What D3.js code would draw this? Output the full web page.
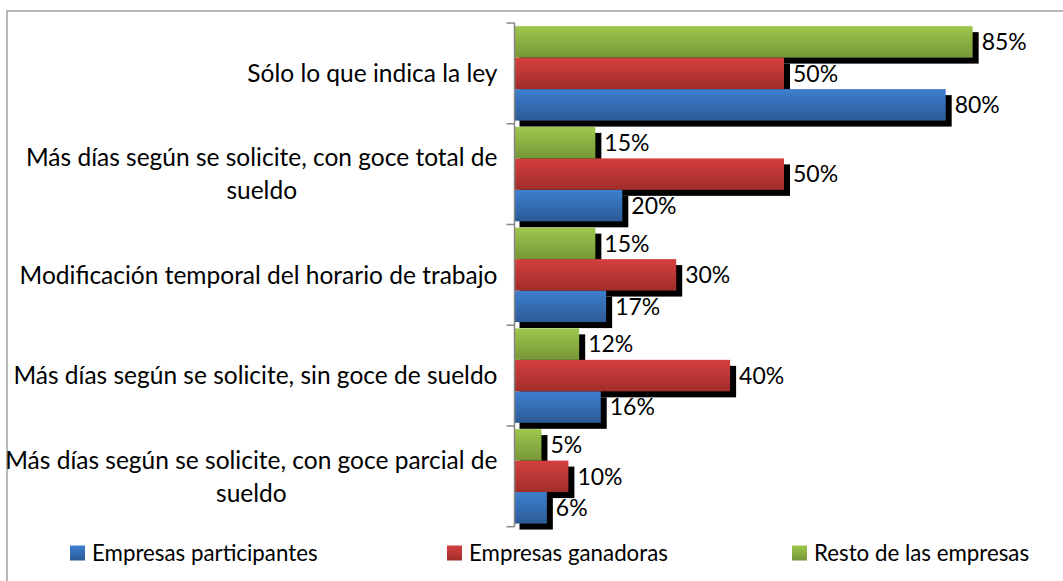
<!DOCTYPE html>
<html>
<head>
<meta charset="utf-8">
<script src="https://cdn.jsdelivr.net/npm/d3@7"></script>
<style>
  body { margin: 0; background: #fff; }
  svg { display: block; font-family: Lato, "Open Sans", sans-serif; }
</style>
</head>
<body>
<div id="chart"></div>
<script>
// data
var categories = [
  "Sólo lo que indica la ley",
  "Más días según se solicite, con goce total de sueldo",
  "Modificación temporal del horario de trabajo",
  "Más días según se solicite, sin goce de sueldo",
  "Más días según se solicite, con goce parcial de sueldo"
];
var seriesNames = ["Empresas participantes", "Empresas ganadoras", "Resto de las empresas"];
var participantes = [80, 20, 17, 16, 6];
var ganadoras = [50, 50, 30, 40, 10];
var resto = [85, 15, 15, 12, 5];

var width = 1063, height = 581;
var catFont = 24.5, valueFont = 23, legendFont = 22.3;
var margin = { top: 23, left: 514.5, bottom: 54, right: 9.5 };

var series = [
  { key: "participantes", name: seriesNames[0], values: participantes, top: "#3d7fcf", bottom: "#2c5b96" },
  { key: "ganadoras", name: seriesNames[1], values: ganadoras, top: "#d4403e", bottom: "#a02d2b" },
  { key: "resto", name: seriesNames[2], values: resto, top: "#9fc74d", bottom: "#769738" }
];

var svg = d3.select("#chart").append("svg")
  .attr("width", width)
  .attr("height", height);

// gradients for the bars
var defs = svg.append("defs");
series.forEach(function(s) {
  var g = defs.append("linearGradient")
    .attr("id", "grad-" + s.key)
    .attr("x1", 0).attr("y1", 0).attr("x2", 0).attr("y2", 1);
  g.append("stop").attr("offset", "0%").attr("stop-color", s.top);
  g.append("stop").attr("offset", "100%").attr("stop-color", s.bottom);
});

// chart frame (only top and left edges are inside the picture)
svg.append("path")
  .attr("d", "M7,590V11H1070")
  .attr("fill", "none")
  .attr("stroke", "#a0a0a0")
  .attr("stroke-width", 1.5);

var x = d3.scaleLinear()
  .domain([0, 100])
  .range([margin.left, width - margin.right]);

var y = d3.scaleBand()
  .domain(categories)
  .range([margin.top, height - margin.bottom - 0.3])
  .paddingInner(0).paddingOuter(0);

// within each category: green on top, red, then blue
var ySub = d3.scaleBand()
  .domain(["resto", "ganadoras", "participantes"])
  .range([0, y.bandwidth()])
  .paddingInner(0)
  .paddingOuter(0.1);

var bars = [];
series.forEach(function(s) {
  s.values.forEach(function(v, i) {
    bars.push({ key: s.key, cat: categories[i], value: v });
  });
});

//Shadows first so the next bar covers them
svg.append("g").selectAll("rect")
  .data(bars)
  .enter().append("rect")
  .attr("x", (d) => x(0) + 5)
  .attr("y", (d) => y(d.cat) + ySub(d.key) + 6)
  .attr("width", (d) => x(d.value) - x(0) + 1)
  .attr("height", ySub.bandwidth())
  .attr("fill", "#000");

svg.append("g").selectAll("rect")
  .data(bars)
  .enter().append("rect")
  .attr("x", x(0))
  .attr("y", (d) => y(d.cat) + ySub(d.key))
  .attr("width", (d) => x(d.value) - x(0))
  .attr("height", ySub.bandwidth())
  .attr("fill", (d) => "url(#grad-" + d.key + ")");

// value labels
svg.append("g").selectAll("text")
  .data(bars)
  .enter().append("text")
  .attr("x", (d) => x(d.value) + 9)
  .attr("y", (d) => y(d.cat) + ySub(d.key) + ySub.bandwidth() / 2)
  .attr("dy", "0.36em")
  .style("font-size", valueFont + "px")
  .attr("fill", "#000")
  .text((d) => d.value + "%");

// axis line and ticks
var axis = svg.append("g");
axis.append("line")
  .attr("x1", x(0)).attr("x2", x(0))
  .attr("y1", y.range()[0]).attr("y2", y.range()[1])
  .attr("stroke", "#868686")
  .attr("stroke-width", 1.5);
var tickYs = categories.map((c) => y(c)).concat([y.range()[1]]);
axis.selectAll(".tick")
  .data(tickYs)
  .enter().append("line")
  .attr("x1", x(0) - 8).attr("x2", x(0))
  .attr("y1", (d) => d).attr("y2", (d) => d)
  .attr("stroke", "#868686")
  .attr("stroke-width", 1.5);

// category labels, wrapped and right aligned as a block
var labelRight = x(0) - 17;
var lineHeight = 33;
var labels = svg.append("g").selectAll("text")
  .data(categories)
  .enter().append("text")
  .style("font-size", catFont + "px")
  .attr("fill", "#000")
  .attr("text-anchor", "middle");

labels.each(function(d) {
  var text = d3.select(this),
    words = d.split(/\s+/).reverse(),
    word, line = [], lines = [],
    probe = text.append("tspan");
  while (word = words.pop()) {
    line.push(word);
    probe.text(line.join(" "));
    if (probe.node().getComputedTextLength() > 500 && line.length > 1) {
      line.pop();
      lines.push(line.join(" "));
      line = [word];
    }
  }
  lines.push(line.join(" "));
  probe.text(null);
  // widest line decides where the block sits
  var blockWidth = 0;
  lines.forEach(function(l) {
    probe.text(l);
    blockWidth = Math.max(blockWidth, probe.node().getComputedTextLength());
  });
  probe.remove();
  var cx = labelRight - blockWidth / 2,
    cy = y(d) + y.bandwidth() / 2 - (lines.length - 1) * lineHeight / 2;
  lines.forEach(function(l, i) {
    text.append("tspan")
      .attr("x", cx)
      .attr("y", cy + i * lineHeight)
      .attr("dy", "0.36em")
      .text(l);
  });
});

// legend
var legendX = [70, 447, 792];
var legend = svg.append("g").selectAll("g")
  .data(series)
  .enter().append("g")
  .attr("transform", (d, i) => "translate(" + legendX[i] + ",553)");
legend.append("rect")
  .attr("x", 0).attr("y", -7.5)
  .attr("width", 15).attr("height", 15)
  .attr("fill", (d) => "url(#grad-" + d.key + ")");
legend.append("text")
  .attr("x", 22)
  .attr("dy", "0.36em")
  .style("font-size", legendFont + "px")
  .attr("fill", "#000")
  .text((d) => d.name);
</script>
</body>
</html>
